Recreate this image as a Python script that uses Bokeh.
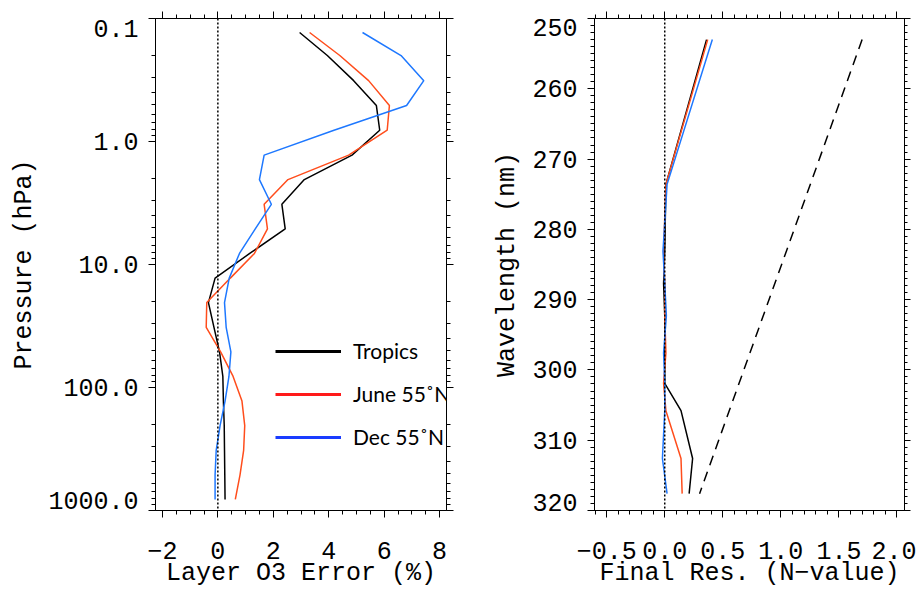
import numpy as np
from bokeh.plotting import figure
from bokeh.models import (Range1d, FixedTicker, LinearAxis, LogAxis, Span, Legend,
                          LegendItem, ColumnDataSource)
from bokeh.layouts import row
from bokeh.embed import file_html
from bokeh.resources import INLINE

# ---------------- data ----------------
pressure = [0.13, 0.20, 0.32, 0.51, 0.81, 1.29, 2.04, 3.24, 5.13, 8.13,
            12.9, 20.4, 32.4, 51.3, 81.3, 129.0, 204.0, 324.0, 513.0, 813.0]
tropics_err = [2.95, 3.95, 4.90, 5.72, 5.84, 4.84, 3.12, 2.31, 2.43, 1.15,
               -0.10, -0.34, -0.14, 0.06, 0.18, 0.20, 0.23, 0.24, 0.25, 0.26]
june_err = [3.31, 4.40, 5.44, 6.19, 6.11, 4.72, 2.53, 1.67, 1.79, 1.32,
            0.45, -0.40, -0.42, 0.10, 0.55, 0.87, 0.97, 0.93, 0.80, 0.63]
dec_err = [5.22, 6.61, 7.43, 6.81, 4.19, 1.67, 1.50, 1.93, 1.35, 0.78,
           0.41, 0.24, 0.30, 0.47, 0.40, 0.26, 0.08, -0.06, -0.10, -0.10]

wavelength = [253.0, 273.6, 283.1, 287.7, 292.3, 297.6, 301.9, 305.8, 312.6, 317.6]
tropics_res = [0.36, 0.01, 0.00, -0.01, 0.00, 0.00, 0.00, 0.14, 0.24, 0.21]
june_res = [0.37, 0.01, -0.01, 0.00, 0.00, 0.01, -0.01, 0.01, 0.14, 0.15]
dec_res = [0.41, 0.02, -0.015, 0.00, 0.014, -0.01, 0.00, 0.00, -0.02, 0.02]
ref_wavelength = [253.0, 317.6]
ref_res = [1.70, 0.30]

series_names = ["Tropics", "June 55\u02daN", "Dec 55\u02daN"]

x1_major = [-2, 0, 2, 4, 6, 8]
x1_labels = {-2: "\u22122", 0: "0", 2: "2", 4: "4", 6: "6", 8: "8"}
y1_major = [0.1, 1, 10, 100, 1000]
y1_text = ["0.1", "1.0", "10.0", "100.0", "1000.0"]
x2_major = [-0.5, 0.0, 0.5, 1.0, 1.5, 2.0]
x2_labels = {-0.5: "\u22120.5", 0: "0.0", 0.5: "0.5", 1: "1.0", 1.5: "1.5", 2: "2.0"}
y2_major = [250, 260, 270, 280, 290, 300, 310, 320]
y2_text = [str(v) for v in y2_major]

# ---------------- style ----------------
FONT = "Liberation Mono"
FS = "25px"
C_BLACK = "#000000"
C_RED = "#ff4d1c"
C_BLUE = "#1e78ff"
C_RED_LEG = "#ff1a1a"
C_BLUE_LEG = "#1a3cff"

x1_minor = [round(v, 2) for v in np.arange(-2.0, 8.26, 0.5)]
y1_minor = [m * 10.0 ** e for e in range(-1, 3) for m in range(2, 10)]
x2_minor = [round(v, 2) for v in np.arange(-0.6, 2.07, 0.1)]
y2_minor = list(range(250, 321))

# the outermost y tick labels sit a little inside the frame ends (in decades / nm)
LOG_NUDGE = 10.0 / 123.0
LIN_NUDGE_TOP = 1.3
LIN_NUDGE_BOT = 1.15


def style_axis(ax, labels=True, tick_out=7, minor_out=4):
    ax.axis_line_color = "black"
    ax.axis_line_width = 1
    ax.major_tick_line_color = "black"
    ax.minor_tick_line_color = "black"
    ax.major_tick_out = tick_out
    ax.major_tick_in = 0
    ax.minor_tick_out = minor_out
    ax.minor_tick_in = 0
    ax.major_label_text_font = FONT
    ax.major_label_text_font_size = FS
    ax.major_label_text_color = "black"
    ax.axis_label_text_font = FONT
    ax.axis_label_text_font_size = FS
    ax.axis_label_text_font_style = "normal"
    ax.axis_label_text_color = "black"
    if not labels:
        ax.major_label_text_font_size = "1px"
        ax.major_label_text_alpha = 0
        ax.major_label_standoff = 0


def label_axis(ax, positions, texts, title, title_standoff):
    """An axis that carries only the y tick label texts (ticks drawn by inner axis)."""
    ax.ticker = FixedTicker(ticks=positions, minor_ticks=[])
    ax.major_label_overrides = {pos: t for pos, t in zip(positions, texts)}
    style_axis(ax)
    ax.axis_line_color = None
    ax.major_tick_line_color = None
    ax.minor_tick_line_color = None
    ax.major_tick_out = 0
    ax.minor_tick_out = 0
    ax.major_label_standoff = 10
    ax.axis_label = title
    ax.axis_label_standoff = title_standoff


# ---------------- left panel ----------------
p1 = figure(width=490, height=594, y_axis_type="log",
            x_range=Range1d(-2.25, 8.25), y_range=Range1d(1000, 0.1),
            output_backend="svg", toolbar_location=None,
            min_border_left=155, min_border_right=44,
            min_border_top=18, min_border_bottom=84)
p1.grid.visible = False
p1.outline_line_color = "black"
p1.background_fill_color = "white"
p1.border_fill_color = "white"

xt1 = FixedTicker(ticks=x1_major, minor_ticks=x1_minor)
yt1 = FixedTicker(ticks=y1_major, minor_ticks=y1_minor)

p1.xaxis.ticker = xt1
p1.xaxis.major_label_overrides = x1_labels
p1.xaxis.axis_label = "Layer O3 Error (%)"
style_axis(p1.xaxis[0])
p1.xaxis.major_label_standoff = 24
p1.xaxis.axis_label_standoff = -3

# inner left axis: tick marks only
p1.yaxis.ticker = yt1
style_axis(p1.yaxis[0], labels=False)

# outer left axis: label texts
y1_pos = [round(v, 4) for v in
          [y1_major[0] * 10 ** LOG_NUDGE] + y1_major[1:-1] + [y1_major[-1] / 10 ** LOG_NUDGE]]
lab1 = LogAxis()
label_axis(lab1, y1_pos, y1_text, "Pressure (hPa)", 6)
p1.add_layout(lab1, "left")

top1 = LinearAxis(ticker=xt1)
style_axis(top1, labels=False)
p1.add_layout(top1, "above")
right1 = LogAxis(ticker=yt1)
style_axis(right1, labels=False)
p1.add_layout(right1, "right")

p1.add_layout(Span(location=0, dimension="height", line_color="black",
                   line_dash="2 2", line_width=1.5))

src1 = ColumnDataSource(dict(p=pressure, t=tropics_err, j=june_err, d=dec_err))
p1.line("t", "p", source=src1, line_color=C_BLACK, line_width=1.5)
p1.line("j", "p", source=src1, line_color=C_RED, line_width=1.5)
p1.line("d", "p", source=src1, line_color=C_BLUE, line_width=1.5)

leg_r = [p1.line([np.nan], [np.nan], line_color=c, line_width=3.2)
         for c in (C_BLACK, C_RED_LEG, C_BLUE_LEG)]
legend = Legend(items=[LegendItem(label=n, renderers=[r])
                       for n, r in zip(series_names, leg_r)],
                location=(120, 61), orientation="vertical",
                border_line_alpha=0, background_fill_alpha=0,
                glyph_width=66, glyph_height=20, label_height=20,
                label_standoff=12, spacing=18, padding=0, margin=0,
                label_text_font="Lato", label_text_font_size="21px",
                label_text_color="black")
p1.add_layout(legend)

# ---------------- right panel ----------------
p2 = figure(width=426, height=594,
            x_range=Range1d(-0.605, 2.065), y_range=Range1d(320, 250),
            output_backend="svg", toolbar_location=None,
            min_border_left=103, min_border_right=12,
            min_border_top=18, min_border_bottom=84)
p2.grid.visible = False
p2.outline_line_color = "black"
p2.background_fill_color = "white"
p2.border_fill_color = "white"

xt2 = FixedTicker(ticks=x2_major, minor_ticks=x2_minor)
yt2 = FixedTicker(ticks=y2_major, minor_ticks=y2_minor)
p2.xaxis.ticker = xt2
p2.xaxis.major_label_overrides = x2_labels
p2.xaxis.axis_label = "Final Res. (N\u2212value)"
style_axis(p2.xaxis[0])
p2.xaxis.major_label_standoff = 24
p2.xaxis.axis_label_standoff = -3

p2.yaxis.ticker = yt2
style_axis(p2.yaxis[0], labels=False)

y2_pos = [y2_major[0] + LIN_NUDGE_TOP] + y2_major[1:-1] + [y2_major[-1] - LIN_NUDGE_BOT]
lab2 = LinearAxis()
label_axis(lab2, y2_pos, y2_text, "Wavelength (nm)", 7)
p2.add_layout(lab2, "left")

top2 = LinearAxis(ticker=xt2)
style_axis(top2, labels=False)
p2.add_layout(top2, "above")
right2 = LinearAxis(ticker=yt2)
style_axis(right2, labels=False, tick_out=6, minor_out=3)
p2.add_layout(right2, "right")

p2.add_layout(Span(location=0, dimension="height", line_color="black",
                   line_dash="2 2", line_width=1.5))

src2 = ColumnDataSource(dict(w=wavelength, t=tropics_res, j=june_res, d=dec_res))
p2.line("t", "w", source=src2, line_color=C_BLACK, line_width=1.5)
p2.line("j", "w", source=src2, line_color=C_RED, line_width=1.5)
p2.line("d", "w", source=src2, line_color=C_BLUE, line_width=1.5)
p2.line(ref_res, ref_wavelength, line_color="black", line_width=1.5, line_dash="10 7")

layout = row(p1, p2)
open("out.html", "w").write(file_html(layout, INLINE))
